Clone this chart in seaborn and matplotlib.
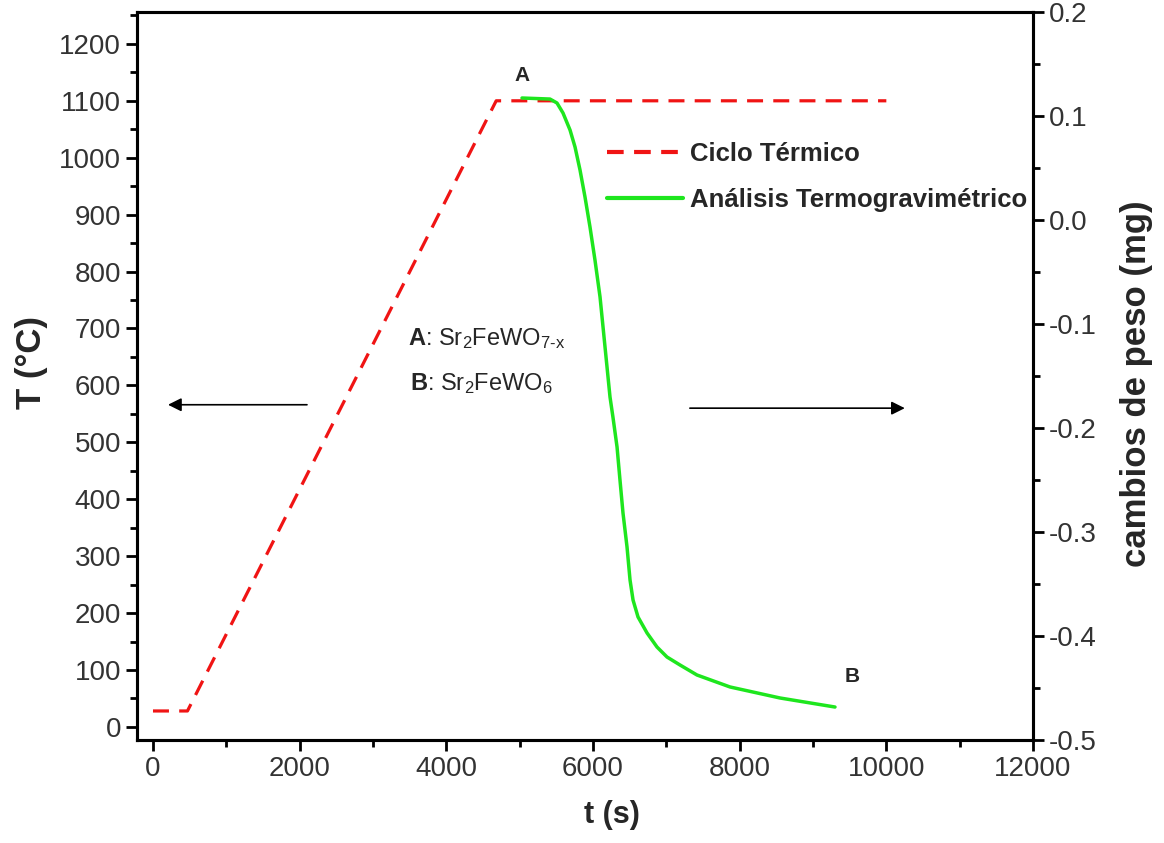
import matplotlib
matplotlib.use("Agg")
import matplotlib.pyplot as plt
import seaborn as sns
import pandas as pd
from matplotlib.ticker import MultipleLocator, FuncFormatter
from matplotlib.lines import Line2D

# ---- data ----
ciclo_t = [0, 470, 4680, 10000]
ciclo_T = [28, 28, 1100, 1100]

tga_t = [5032, 5414, 5509, 5591, 5687, 5755, 5823, 5891, 5959, 6027, 6096,
         6164, 6232, 6273, 6328, 6368, 6409, 6464, 6505, 6546, 6614,
         6737, 6873, 7009, 7187, 7418, 7868, 8550, 9300]
tga_w = [0.1173, 0.1163, 0.1125, 0.1029, 0.0865, 0.0702, 0.0481, 0.0221,
         -0.0067, -0.0385, -0.0740, -0.1221, -0.1702, -0.1900,
         -0.2183, -0.2500, -0.2817, -0.3144, -0.3461, -0.3654, -0.3817,
         -0.3971, -0.4106, -0.4202, -0.4279, -0.4375, -0.4490, -0.4596,
         -0.4683]

label_ciclo = "Ciclo Térmico"
label_tga = "Análisis Termogravimétrico"

sns.set_theme(style="white")
plt.rcParams['font.family'] = ['Liberation Sans', 'DejaVu Sans']
plt.rcParams['mathtext.fontset'] = 'custom'
plt.rcParams['mathtext.rm'] = 'Liberation Sans'
plt.rcParams['mathtext.it'] = 'Liberation Sans'
plt.rcParams['mathtext.bf'] = 'Liberation Sans:bold'

fig = plt.figure(figsize=(11.64, 8.43), dpi=100)
ax = fig.add_axes([137/1164, 1-740/843, (1033-137)/1164, (740-12)/843])
ax2 = ax.twinx()

red = '#f01414'
green = '#1ee61e'

df1 = pd.DataFrame({'t': ciclo_t, 'T': ciclo_T})
df2 = pd.DataFrame({'t': tga_t, 'w': tga_w})

sns.lineplot(data=df1, x='t', y='T', ax=ax, color=red, lw=2.3,
             sort=False, estimator=None)
ax.lines[0].set_dashes((5, 3.2))
sns.lineplot(data=df2, x='t', y='w', ax=ax2, color=green, lw=2.5,
             sort=False, estimator=None)
for ln in ax2.lines:
    ln.set_solid_joinstyle('round')
    ln.set_solid_capstyle('round')

ax.set_xlim(-218, 12000)
ax.set_ylim(-23, 1256)
ax2.set_ylim(-0.5, 0.2)

ax.xaxis.set_major_locator(MultipleLocator(2000))
ax.xaxis.set_minor_locator(MultipleLocator(1000))
ax.yaxis.set_major_locator(MultipleLocator(100))
ax.yaxis.set_minor_locator(MultipleLocator(50))
ax2.yaxis.set_major_locator(MultipleLocator(0.1))
ax2.yaxis.set_minor_locator(MultipleLocator(0.05))
ax2.yaxis.set_major_formatter(FuncFormatter(lambda v, p: f"{v:.1f}"))

for a in (ax, ax2):
    for s in a.spines.values():
        s.set_linewidth(2.2)
        s.set_color('black')
    a.tick_params(which='major', direction='out', length=8, width=2,
                  labelsize=20, labelcolor='#333333', color='black')
    a.tick_params(which='minor', direction='out', length=5, width=2, color='black')
    a.grid(False)
ax.tick_params(axis='x', which='both', bottom=True)
ax.tick_params(axis='y', which='both', left=True)
ax2.tick_params(axis='y', which='both', right=True)

ax.set_xlabel("t (s)", fontsize=22, fontweight='bold')
ax.xaxis.set_label_coords(0.530, -0.083)
ax.set_ylabel("T (°C)", fontsize=25, fontweight='bold')
ax.yaxis.set_label_coords(-0.0993, 0.519)
ax2.set_ylabel("cambios de peso (mg)", fontsize=25, fontweight='bold')
ax2.yaxis.set_label_coords(1.097, 0.490)

# legend
handles = [Line2D([], [], color=red, lw=3, dashes=(4, 2.5)),
           Line2D([], [], color=green, lw=3)]
ax.legend(handles, [label_ciclo, label_tga], loc='upper left',
          bbox_to_anchor=(0.5246, 0.8214), frameon=False, handlelength=2.96,
          handletextpad=0.27, labelspacing=0.85, borderpad=0, borderaxespad=0,
          prop={'family': 'Liberation Sans', 'weight': 'bold', 'size': 18.5})

# annotations
ax.text(5031, 1145, "A", fontsize=15, fontweight='bold', ha='center', va='center')
ax.text(9530, 88, "B", fontsize=15, fontweight='bold', ha='center', va='center')
ax.text(3476, 683, r"$\mathbf{A}$: Sr$_2$FeWO$_{7\text{-}x}$", fontsize=17,
        ha='left', va='center')
ax.text(3500, 604, r"$\mathbf{B}$: Sr$_2$FeWO$_6$", fontsize=17,
        ha='left', va='center')

ax.annotate("", xy=(205, 566), xytext=(2100, 566),
            arrowprops=dict(arrowstyle='-|>', color='black', lw=1.2,
                            mutation_scale=20, shrinkA=0, shrinkB=0))
ax.annotate("", xy=(10252, 560), xytext=(7321, 560),
            arrowprops=dict(arrowstyle='-|>', color='black', lw=1.2,
                            mutation_scale=20, shrinkA=0, shrinkB=0))

fig.savefig("out.png", dpi=100)
